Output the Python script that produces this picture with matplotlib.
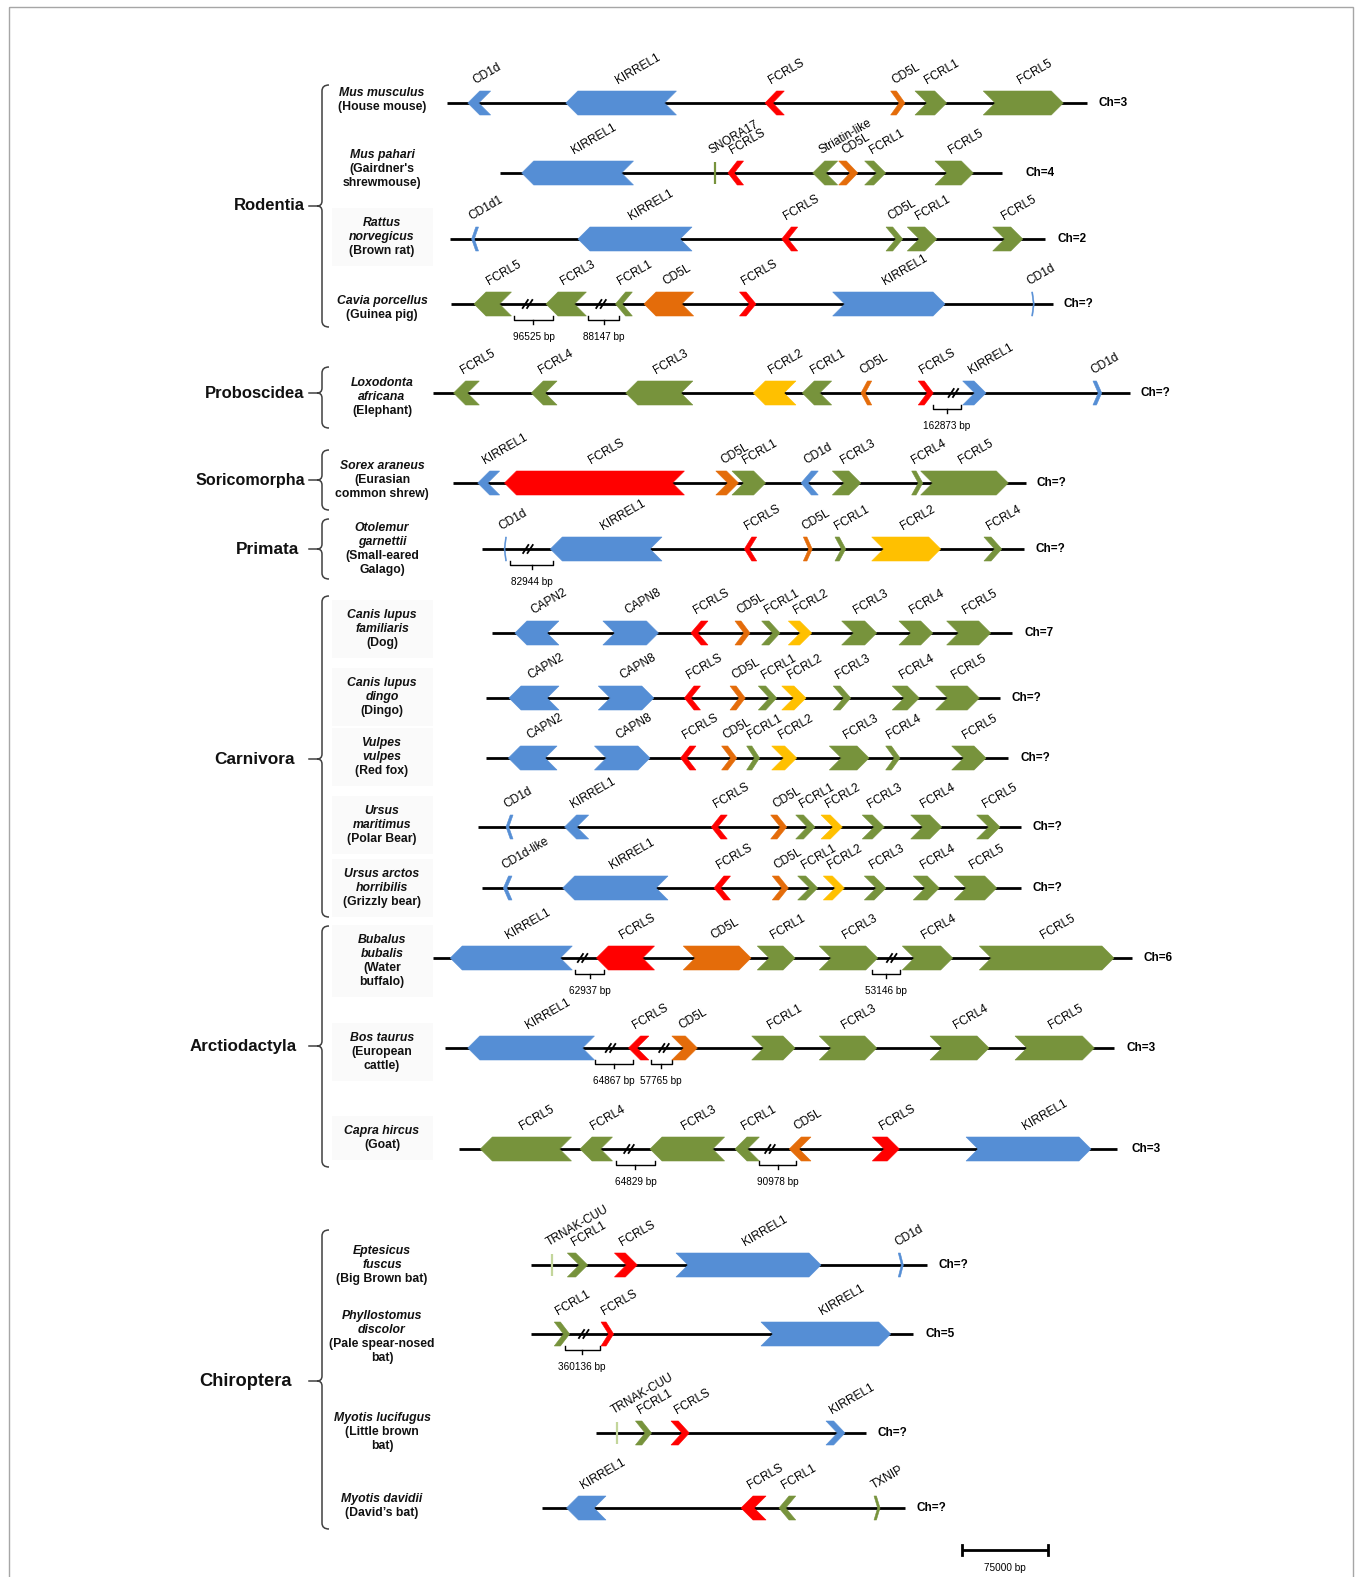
import matplotlib
matplotlib.use("Agg")
import matplotlib.pyplot as plt
from matplotlib.patches import Polygon, Rectangle, PathPatch
from matplotlib.path import Path

plt.rcParams['font.family'] = ['Liberation Sans', 'DejaVu Sans']

# gene colours (family based)
BLUE = '#558ED5'
RED = '#FF0000'
ORANGE = '#E46C0A'
GREEN = '#77933C'
YELLOW = '#FFC000'
PALE = '#C3D69B'

GENE_COLOR = {
    'KIRREL1': BLUE, 'CD1d': BLUE, 'CD1d1': BLUE, 'CD1d-like': BLUE,
    'CAPN2': BLUE, 'CAPN8': BLUE,
    'FCRLS': RED, 'CD5L': ORANGE, 'FCRL2': YELLOW,
    'FCRL1': GREEN, 'FCRL3': GREEN, 'FCRL4': GREEN, 'FCRL5': GREEN,
    'Striatin-like': GREEN, 'TXNIP': GREEN, 'SNORA17': GREEN, 'TRNAK-CUU': PALE,
}

# ---------------------------------------------------------------------------
# data: positions in kb along the aligned locus, strand +1 / -1 (0 = small RNA)
# ---------------------------------------------------------------------------
species = [
    (['Mus musculus'], ['(House mouse)']),
    (['Mus pahari'], ["(Gairdner's", 'shrewmouse)']),
    (['Rattus', 'norvegicus'], ['(Brown rat)']),
    (['Cavia porcellus'], ['(Guinea pig)']),
    (['Loxodonta', 'africana'], ['(Elephant)']),
    (['Sorex araneus'], ['(Eurasian', 'common shrew)']),
    (['Otolemur', 'garnettii'], ['(Small-eared', 'Galago)']),
    (['Canis lupus', 'familiaris'], ['(Dog)']),
    (['Canis lupus', 'dingo'], ['(Dingo)']),
    (['Vulpes', 'vulpes'], ['(Red fox)']),
    (['Ursus', 'maritimus'], ['(Polar Bear)']),
    (['Ursus arctos', 'horribilis'], ['(Grizzly bear)']),
    (['Bubalus', 'bubalis'], ['(Water', 'buffalo)']),
    (['Bos taurus'], ['(European', 'cattle)']),
    (['Capra hircus'], ['(Goat)']),
    (['Eptesicus', 'fuscus'], ['(Big Brown bat)']),
    (['Phyllostomus', 'discolor'], ['(Pale spear-nosed', 'bat)']),
    (['Myotis lucifugus'], ['(Little brown', 'bat)']),
    (['Myotis davidii'], ['(David\u2019s bat)']),
]

chromosome = ['Ch=3', 'Ch=4', 'Ch=2', 'Ch=?', 'Ch=?', 'Ch=?', 'Ch=?', 'Ch=7', 'Ch=?',
              'Ch=?', 'Ch=?', 'Ch=?', 'Ch=6', 'Ch=3', 'Ch=3', 'Ch=?', 'Ch=5', 'Ch=?', 'Ch=?']

locus_span = [
    (387.1, 941.1), (433.0, 867.5), (389.7, 905.0), (390.6, 912.2), (374.6, 978.6),
    (392.3, 888.5), (417.7, 886.8), (426.1, 876.1), (420.9, 866.0), (420.9, 873.2),
    (413.7, 883.9), (417.1, 883.9), (374.6, 980.1), (385.5, 965.0), (397.1, 967.1),
    (459.8, 802.5), (459.8, 790.9), (516.1, 750.0), (469.7, 783.7),
]

mus_musculus = [('CD1d', 405.1, 424.9, -1), ('KIRREL1', 490.0, 585.8, -1),
                ('FCRLS', 662.5, 679.2, -1), ('CD5L', 771.3, 783.7, 1),
                ('FCRL1', 792.4, 819.8, 1), ('FCRL5', 851.5, 920.8, 1)]
mus_pahari = [('KIRREL1', 451.8, 548.6, -1), ('SNORA17', 619.2, 619.2, 0),
              ('FCRLS', 630.4, 643.9, -1), ('Striatin-like', 703.8, 725.4, -1),
              ('CD5L', 726.3, 742.8, 1), ('FCRL1', 748.8, 767.0, 1),
              ('FCRL5', 809.7, 842.9, 1)]
rattus = [('CD1d1', 408.4, 414.4, -1), ('KIRREL1', 500.5, 599.3, -1),
          ('FCRLS', 677.0, 690.8, -1), ('CD5L', 767.3, 781.7, 1),
          ('FCRL1', 785.7, 811.2, 1), ('FCRL5', 859.7, 885.7, 1)]
cavia = [('FCRL5', 410.5, 442.9, -1), ('FCRL3', 472.8, 507.8, -1),
         ('FCRL1', 533.0, 547.6, -1), ('CD5L', 557.7, 600.7, -1),
         ('FCRLS', 640.4, 654.7, 1), ('KIRREL1', 721.1, 818.4, 1),
         ('CD1d', 893.4, 895.7, 1)]
loxodonta = [('FCRL5', 392.8, 415.1, -1), ('FCRL4', 460.1, 482.4, -1),
             ('FCRL3', 541.9, 600.0, -1), ('FCRL2', 652.4, 689.3, -1),
             ('FCRL1', 694.8, 720.2, -1), ('CD5L', 745.6, 754.9, -1),
             ('FCRLS', 795.2, 808.2, 1), ('KIRREL1', 833.7, 853.9, 1),
             ('CD1d', 946.5, 954.1, 1)]
sorex = [('KIRREL1', 413.7, 432.7, -1), ('FCRLS', 436.9, 592.7, -1),
         ('CD5L', 619.9, 639.5, 1), ('FCRL1', 633.9, 663.0, 1),
         ('CD1d', 693.7, 708.6, -1), ('FCRL3', 720.8, 745.4, 1),
         ('FCRL4', 789.5, 799.1, 1), ('FCRL5', 797.3, 873.2, 1)]
otolemur = [('CD1d', 436.5, 438.6, -1), ('KIRREL1', 476.6, 573.3, -1),
            ('FCRLS', 644.6, 655.3, -1), ('CD5L', 695.7, 703.4, 1),
            ('FCRL1', 723.1, 732.4, 1), ('FCRL2', 754.9, 814.6, 1),
            ('FCRL4', 852.1, 867.5, 1)]
dog = [('CAPN2', 445.9, 484.0, -1), ('CAPN8', 522.1, 570.2, 1),
       ('FCRLS', 598.3, 613.1, -1), ('CD5L', 636.5, 649.5, 1),
       ('FCRL1', 659.6, 675.5, 1), ('FCRL2', 682.7, 702.9, 1),
       ('FCRL3', 728.9, 759.2, 1), ('FCRL4', 778.5, 807.7, 1),
       ('FCRL5', 819.8, 857.9, 1)]
dingo = [('CAPN2', 440.8, 484.1, -1), ('CAPN8', 518.1, 566.2, 1),
         ('FCRLS', 592.7, 606.6, -1), ('CD5L', 632.2, 645.4, 1),
         ('FCRL1', 656.7, 672.6, 1), ('FCRL2', 677.0, 698.0, 1),
         ('FCRL3', 721.6, 736.7, 1), ('FCRL4', 772.7, 796.1, 1),
         ('FCRL5', 810.3, 848.1, 1)]
red_fox = [('CAPN2', 440.3, 482.4, -1), ('CAPN8', 514.8, 562.9, 1),
           ('FCRLS', 589.4, 602.7, -1), ('CD5L', 624.9, 638.1, 1),
           ('FCRL1', 646.6, 657.8, 1), ('FCRL2', 668.3, 689.9, 1),
           ('FCRL3', 718.2, 752.6, 1), ('FCRL4', 767.0, 779.4, 1),
           ('FCRL5', 824.2, 853.9, 1)]
polar_bear = [('CD1d', 438.2, 444.3, -1), ('KIRREL1', 488.9, 509.8, -1),
              ('FCRLS', 616.0, 629.8, -1), ('CD5L', 667.4, 681.3, 1),
              ('FCRL1', 689.1, 705.8, 1), ('FCRL2', 711.0, 729.4, 1),
              ('FCRL3', 746.7, 765.8, 1), ('FCRL4', 788.7, 815.5, 1),
              ('FCRL5', 845.8, 866.0, 1)]
grizzly = [('CD1d-like', 435.9, 443.4, -1), ('KIRREL1', 487.3, 578.5, -1),
           ('FCRLS', 618.3, 632.6, -1), ('CD5L', 668.8, 682.7, 1),
           ('FCRL1', 690.8, 708.1, 1), ('FCRL2', 713.0, 731.2, 1),
           ('FCRL3', 748.5, 767.3, 1), ('FCRL4', 790.9, 813.4, 1),
           ('FCRL5', 826.4, 863.1, 1)]
bubalus = [('KIRREL1', 389.9, 495.6, -1), ('FCRLS', 516.5, 566.8, -1),
           ('CD5L', 591.7, 650.4, 1), ('FCRL1', 655.8, 688.5, 1),
           ('FCRL3', 709.5, 760.1, 1), ('FCRL4', 781.4, 825.0, 1),
           ('FCRL5', 848.1, 964.7, 1)]
bos = [('KIRREL1', 405.1, 514.8, -1), ('FCRLS', 544.3, 561.9, -1),
       ('CD5L', 581.8, 603.9, 1), ('FCRL1', 651.0, 688.5, 1),
       ('FCRL3', 709.5, 759.2, 1), ('FCRL4', 805.4, 856.5, 1),
       ('FCRL5', 879.0, 947.7, 1)]
capra = [('FCRL5', 416.0, 494.9, -1), ('FCRL4', 502.3, 530.4, -1),
         ('FCRL3', 562.9, 627.5, -1), ('FCRL1', 636.5, 657.6, -1),
         ('CD5L', 683.5, 702.3, -1), ('FCRLS', 755.4, 778.8, 1),
         ('KIRREL1', 836.6, 944.8, 1)]
eptesicus = [('TRNAK-CUU', 478.0, 478.0, 0), ('FCRL1', 491.3, 508.9, 1),
             ('FCRLS', 532.1, 551.9, 1), ('KIRREL1', 585.4, 711.0, 1),
             ('CD1d', 777.9, 782.3, 1)]
phyllostomus = [('FCRL1', 480.0, 493.3, 1), ('FCRLS', 520.5, 531.4, 1),
                ('KIRREL1', 659.0, 771.3, 1)]
myotis_luc = [('TRNAK-CUU', 534.3, 534.3, 0), ('FCRL1', 550.3, 564.2, 1),
              ('FCRLS', 581.1, 596.9, 1), ('KIRREL1', 715.3, 731.8, 1)]
myotis_dav = [('KIRREL1', 490.6, 524.8, -1), ('FCRLS', 641.7, 663.4, -1),
              ('FCRL1', 674.6, 689.1, -1), ('TXNIP', 756.9, 762.1, 1)]

genes = [mus_musculus, mus_pahari, rattus, cavia, loxodonta, sorex, otolemur,
         dog, dingo, red_fox, polar_bear, grizzly, bubalus, bos, capra,
         eptesicus, phyllostomus, myotis_luc, myotis_dav]

# collapsed intergenic gaps: (break mark, bracket start, bracket end, size label)
gaps = {
    3: [(456.8, 445.1, 478.9, '96525 bp'), (520.5, 509.2, 536.1, '88147 bp')],
    4: [(825.6, 807.7, 832.2, '162873 bp')],
    6: [(457.2, 441.7, 478.9, '82944 bp')],
    12: [(504.5, 498.2, 523.1, '62937 bp'), (772.2, 754.9, 779.4, '53146 bp')],
    13: [(528.7, 515.3, 547.9, '64867 bp'), (575.0, 563.5, 581.8, '57765 bp')],
    14: [(544.7, 533.7, 566.9, '64829 bp'), (666.8, 657.6, 689.3, '90978 bp')],
    16: [(505.5, 488.9, 519.4, '360136 bp')],
}

# CD5L of the rat is coloured like the FCRL genes
color_override = {(2, 'CD5L'): GREEN}

orders = ['Rodentia', 'Proboscidea', 'Soricomorpha', 'Primata',
          'Carnivora', 'Arctiodactyla', 'Chiroptera']

scale_kb = 75

# ---------------------------------------------------------------------------
# layout (figure pixels)
# ---------------------------------------------------------------------------
W, H = 1356, 1577
KB_PER_PX = 0.866
row_y = [103, 173, 239, 304, 393, 483, 549, 633, 698, 758, 827, 888,
         958, 1048, 1149, 1265, 1334, 1433, 1508]
label_y = [100, 169, 237, 308, 397, 480, 549, 629, 697, 757, 825, 888,
           961, 1052, 1138, 1265, 1337, 1432, 1506]
ch_gap = [12, 24, 12, 10, 10, 11, 11, 13, 12, 12, 12, 12, 12, 12, 15, 12, 12, 11, 12]
shaded_rows = [2, 7, 8, 9, 10, 11, 12, 13, 14]
brace_spans = [(85, 327, 206), (367, 428, 393), (450, 510, 480), (519, 579, 549),
               (596, 917, 759), (926, 1167, 1046), (1230, 1529, 1381)]
order_right = [305, 304, 305, 299, 295, 297, 292]
order_size = [12.0, 12.0, 11.6, 12.4, 12.4, 12.2, 13.2]
BRACE_X = 322
NAME_X = 382
HALF_H = 12                 # half arrow height, px
HEAD = 12 * KB_PER_PX       # arrow head length, kb

fig = plt.figure(figsize=(W / 100, H / 100), dpi=100)
lay = fig.add_axes([0, 0, 1, 1])
lay.set_xlim(0, W)
lay.set_ylim(H, 0)
lay.axis('off')
ax = fig.add_axes([0, 0, 1, 1])
ax.set_xlim(0, W * KB_PER_PX)
ax.set_ylim(H, 0)
ax.axis('off')
ax.patch.set_alpha(0)

# outer frame
lay.add_patch(Rectangle((8.5, 6.5), 1344, 1600, fill=False,
                        edgecolor='#A6A6A6', lw=1.0, clip_on=False))


def draw_gene(ax, name, s, e, strand, y, color):
    if strand == 0:
        ax.plot([s, s], [y - HALF_H + 1, y + HALF_H - 1], color=color, lw=1.6,
                solid_capstyle='butt', zorder=3)
    else:
        h = min(HEAD, 0.6 * (e - s))
        if strand > 0:
            pts = [(s, y - HALF_H), (e - h, y - HALF_H), (e, y),
                   (e - h, y + HALF_H), (s, y + HALF_H), (s + h, y)]
        else:
            pts = [(e, y - HALF_H), (s + h, y - HALF_H), (s, y),
                   (s + h, y + HALF_H), (e, y + HALF_H), (e - h, y)]
        ax.add_patch(Polygon(pts, closed=True, facecolor=color, edgecolor=color,
                             lw=0.4, zorder=3))
    cx = (s + e) / 2 - 2 * KB_PER_PX
    ax.text(cx, y - 16, name, rotation=30, rotation_mode='anchor',
            ha='left', va='bottom', fontsize=8.6, color='black', zorder=4)


def draw_gap(ax, xb, b0, b1, label, y):
    d = 2.2 * KB_PER_PX
    w = 2.6 * KB_PER_PX
    for off in (-d, d):
        ax.plot([xb + off - w, xb + off + w], [y + 4, y - 4], color='black',
                lw=1.3, zorder=4)
    ax.plot([b0, b0, b1, b1], [y + 12, y + 16, y + 16, y + 12], color='black',
            lw=1.0, zorder=2)
    bc = (b0 + b1) / 2
    ax.plot([bc, bc], [y + 16, y + 20], color='black', lw=1.0, zorder=2)
    ax.text(bc, y + 33, label, ha='center', va='center', fontsize=7.2,
            color='black')


for i, (y, (x0, x1)) in enumerate(zip(row_y, locus_span)):
    ax.plot([x0, x1], [y, y], color='black', lw=2.0, zorder=1,
            solid_capstyle='butt')
    for name, s, e, strand in genes[i]:
        color = color_override.get((i, name), GENE_COLOR[name])
        draw_gene(ax, name, s, e, strand, y, color)
    for xb, b0, b1, lab in gaps.get(i, []):
        draw_gap(ax, xb, b0, b1, lab, y)
    ax.text(x1 + ch_gap[i] * KB_PER_PX, y, chromosome[i], ha='left', va='center',
            fontsize=8.5, fontweight='bold')

    # species name block
    sci, common = species[i]
    lines = [(t, 'italic') for t in sci] + [(t, 'normal') for t in common]
    n = len(lines)
    if i in shaded_rows:
        half = n * 7 + 8
        lay.add_patch(Rectangle((332, label_y[i] - half), 101, 2 * half,
                                facecolor='#FAFAFA', edgecolor='none', zorder=0))
    top = label_y[i] - (n - 1) * 14 / 2
    for k, (t, st) in enumerate(lines):
        lay.text(NAME_X, top + k * 14, t, ha='center', va='center',
                 fontsize=8.8, fontweight='bold', style=st, color='#111111')

# order labels with braces
for name, (top, bot, mid), xr, fs in zip(orders, brace_spans, order_right, order_size):
    x = BRACE_X
    verts = [(x + 7, top), (x, top), (x, top + 6), (x, mid - 5),
             (x, mid), (x - 5, mid), (x, mid), (x, mid + 5),
             (x, bot - 6), (x, bot), (x + 7, bot)]
    codes = [Path.MOVETO, Path.CURVE3, Path.CURVE3, Path.LINETO,
             Path.CURVE3, Path.CURVE3, Path.CURVE3, Path.CURVE3,
             Path.LINETO, Path.CURVE3, Path.CURVE3]
    lay.add_patch(PathPatch(Path(verts, codes), fill=False,
                            edgecolor='#404040', lw=1.1))
    lay.plot([x - 13, x - 5], [mid, mid], color='#404040', lw=1.1)
    lay.text(xr, mid, name, ha='right', va='center', fontsize=fs,
             fontweight='bold', color='#111111')

# scale bar
sb0 = 832.8
sy = 1550
ax.plot([sb0, sb0 + scale_kb], [sy, sy], color='black', lw=2.0,
        solid_capstyle='butt')
for xx in (sb0, sb0 + scale_kb):
    ax.plot([xx, xx], [sy - 5, sy + 5], color='black', lw=2.0)
ax.text(sb0 + scale_kb / 2, sy + 18, '%d000 bp' % scale_kb, ha='center',
        va='center', fontsize=7.2)

fig.savefig('out.png', dpi=100, facecolor='white')
